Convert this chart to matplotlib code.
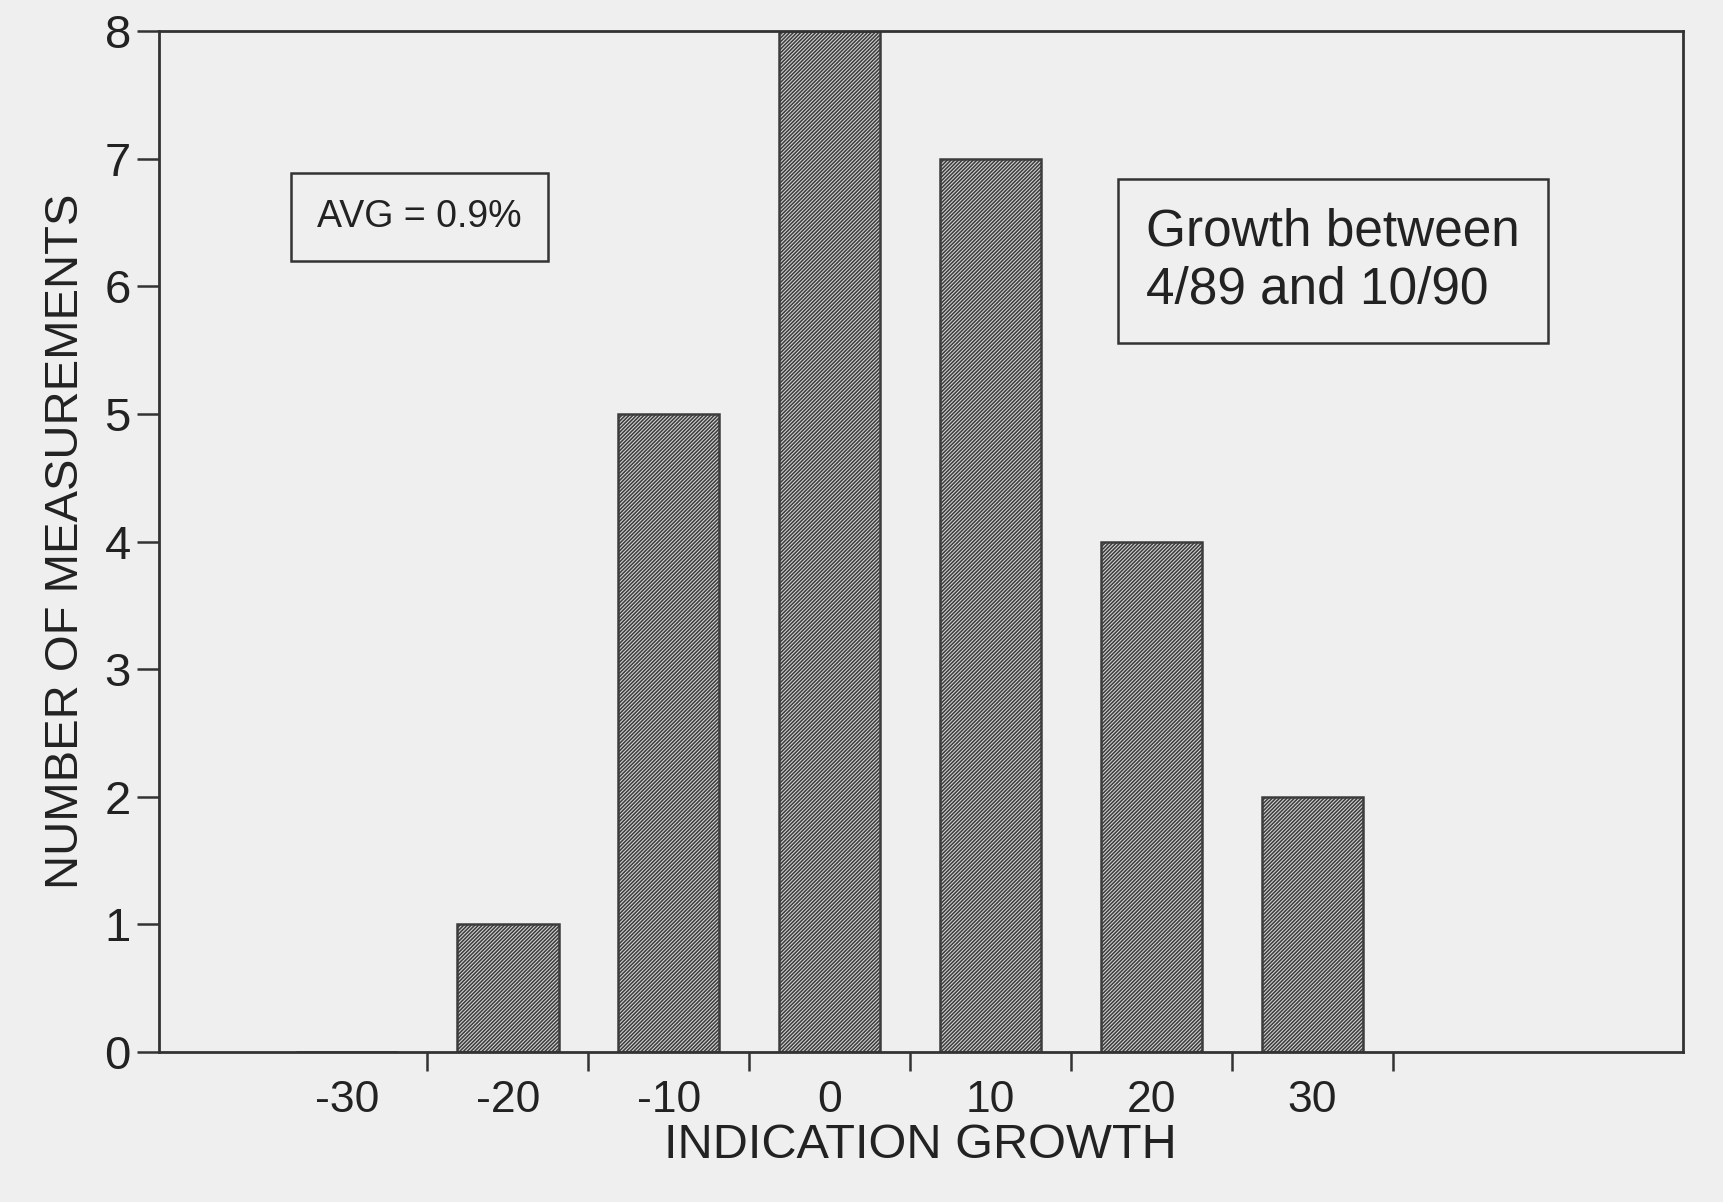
import matplotlib
matplotlib.use("Agg")
import matplotlib.pyplot as plt
import numpy as np

categories = ["-30", "-20", "-10", "0", "10", "20", "30"]
counts = [0, 1, 5, 8, 7, 4, 2]
yticks = [0, 1, 2, 3, 4, 5, 6, 7, 8]

plt.rcParams['font.family'] = ['Liberation Sans', 'DejaVu Sans']
plt.rcParams['hatch.linewidth'] = 1.1

bg = '#efefef'
fig = plt.figure(figsize=(17.24, 12.02), dpi=100, facecolor=bg)
ax = fig.add_axes([0.092, 0.125, 0.884, 0.849])
ax.set_facecolor(bg)

x = np.arange(len(categories))
ax.bar(x, counts, width=0.63, color='#d2d2d2', edgecolor='#3c3c3c',
       linewidth=1.8, hatch='/////////', zorder=2)

ax.set_xlim(-1.17, 8.3)
ax.set_ylim(0, 8)
ax.set_yticks(yticks)
ax.set_yticklabels([str(v) for v in yticks])

# ticks at bin edges, labels at bin centres
ax.set_xticks(list(x[:-1] + 0.5) + [x[-1] + 0.5])
ax.set_xticklabels([])
ax.set_xticks(x, minor=True)
ax.set_xticklabels(categories, minor=True)
ax.tick_params(axis='x', which='major', direction='out', length=14, width=1.8,
               color='#333333')
ax.tick_params(axis='x', which='minor', length=0, pad=20, labelsize=32,
               labelcolor='#222222')
ax.tick_params(axis='y', which='major', direction='out', length=16, width=1.8,
               color='#333333', labelsize=34, labelcolor='#222222', pad=4)

for s in ax.spines.values():
    s.set_linewidth(2.0)
    s.set_color('#333333')

ax.set_ylabel("NUMBER OF MEASUREMENTS", fontsize=34, color='#222222',
              labelpad=12)
ax.set_xlabel("INDICATION GROWTH", fontsize=35, color='#222222', labelpad=2)

ax.text(0.104, 0.818, "AVG = 0.9%", transform=ax.transAxes, fontsize=27,
        color='#222222', va='center', ha='left',
        bbox=dict(boxstyle='square,pad=0.7', facecolor=bg,
                  edgecolor='#333333', linewidth=1.8))
ax.text(0.648, 0.775, "Growth between\n4/89 and 10/90", transform=ax.transAxes,
        fontsize=37, color='#222222', va='center', ha='left', linespacing=1.25,
        bbox=dict(boxstyle='square,pad=0.55', facecolor=bg,
                  edgecolor='#333333', linewidth=1.8))

fig.savefig("out.png", dpi=100, facecolor=bg)
